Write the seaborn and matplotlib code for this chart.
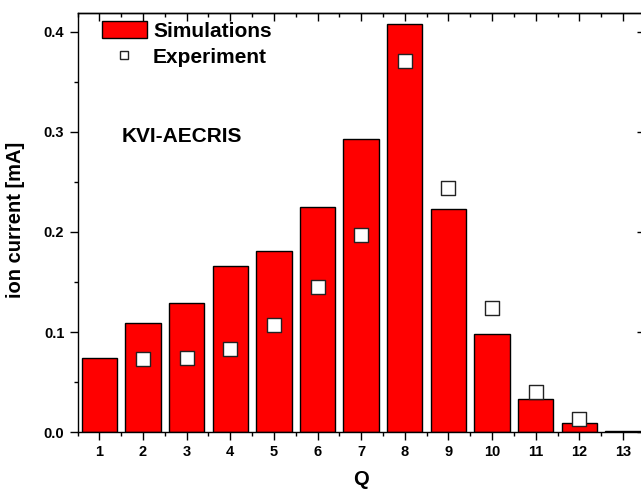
import matplotlib
matplotlib.use("Agg")
import matplotlib.pyplot as plt
from matplotlib.lines import Line2D
from matplotlib.patches import Patch
from matplotlib.ticker import MultipleLocator, FormatStrFormatter
import numpy as np
import pandas as pd
import seaborn as sns

# Charge states and ion currents [mA]
charge_states = [1, 2, 3, 4, 5, 6, 7, 8, 9, 10, 11, 12, 13]
simulations = [0.074, 0.109, 0.129, 0.166, 0.181, 0.225, 0.293, 0.408,
               0.223, 0.098, 0.033, 0.009, 0.001]
exp_charge_states = [2, 3, 4, 5, 6, 7, 8, 9, 10, 11, 12]
experiment = [0.073, 0.074, 0.083, 0.107, 0.145, 0.197, 0.371, 0.244,
              0.124, 0.040, 0.013]

sns.set_theme(style="ticks", rc={
    "text.color": "black", "axes.labelcolor": "black",
    "xtick.color": "black", "ytick.color": "black",
    "axes.edgecolor": "black",
})
plt.rcParams["font.family"] = ["Liberation Sans", "DejaVu Sans"]
plt.rcParams["font.weight"] = "bold"

sim_df = pd.DataFrame({"Q": charge_states, "current": simulations})
exp_df = pd.DataFrame({"Q": exp_charge_states, "current": experiment})

fig = plt.figure(figsize=(6.41, 4.92), dpi=100)
W, H = 641, 492
ax_left, ax_bottom = 77.5, 60
ax_w, ax_h = 567.3, 419
ax = fig.add_axes([ax_left / W, ax_bottom / H, ax_w / W, ax_h / H])

sns.barplot(data=sim_df, x="Q", y="current", native_scale=True, width=0.81,
            color="#ff0000", saturation=1, edgecolor="black", linewidth=1.0,
            ax=ax, zorder=2)
sns.scatterplot(data=exp_df, x="Q", y="current", marker="s", s=115,
                color="white", edgecolor="#222222", linewidth=1.0,
                ax=ax, zorder=3, legend=False)

ax.set_xlim(0.5, 13.5)
ax.set_ylim(0, 0.419)

ax.xaxis.set_major_locator(MultipleLocator(1))
ax.xaxis.set_minor_locator(MultipleLocator(0.5))
ax.yaxis.set_major_locator(MultipleLocator(0.1))
ax.yaxis.set_minor_locator(MultipleLocator(0.05))
ax.yaxis.set_major_formatter(FormatStrFormatter("%.1f"))
ax.xaxis.set_major_formatter(FormatStrFormatter("%d"))

ax.tick_params(axis="both", which="major", direction="out", length=6,
               width=1.0, color="black", labelcolor="black", labelsize=10.5,
               pad=3.5)
ax.tick_params(axis="both", which="minor", direction="out", length=3,
               width=1.0, color="black")
for lab in ax.get_xticklabels() + ax.get_yticklabels():
    lab.set_fontweight("bold")

for sp in ax.spines.values():
    sp.set_linewidth(1.0)
    sp.set_color("black")

# Mirrored ticks on the top and right sides, pointing inward
top = ax.secondary_xaxis("top")
top.xaxis.set_major_locator(MultipleLocator(1))
top.xaxis.set_minor_locator(MultipleLocator(0.5))
top.tick_params(which="major", direction="in", length=6, width=1.0,
                color="black", labeltop=False)
top.tick_params(which="minor", direction="in", length=3, width=1.0,
                color="black")
top.spines["top"].set_linewidth(1.0)
top.spines["top"].set_color("black")

right = ax.secondary_yaxis("right")
right.yaxis.set_major_locator(MultipleLocator(0.1))
right.yaxis.set_minor_locator(MultipleLocator(0.05))
right.tick_params(which="major", direction="in", length=6, width=1.0,
                  color="black", labelright=False)
right.tick_params(which="minor", direction="in", length=3, width=1.0,
                  color="black")
right.spines["right"].set_linewidth(1.0)
right.spines["right"].set_color("black")

ax.set_xlabel("Q", fontsize=14.5, fontweight="bold", color="black")
ax.set_ylabel("ion current [mA]", fontsize=14.5, fontweight="bold",
              color="black")
ax.xaxis.set_label_coords(0.5, -0.091)
ax.yaxis.set_label_coords(-0.092, 0.506)

ax.text(1.5, 0.295, "KVI-AECRIS", fontsize=15, fontweight="bold",
        color="black", ha="left", va="center")

handles = [
    Patch(facecolor="#ff0000", edgecolor="black", linewidth=1.0),
    Line2D([], [], marker="s", linestyle="none", markersize=6,
           markerfacecolor="white", markeredgecolor="#222222",
           markeredgewidth=1.0),
]
ax.legend(handles, ["Simulations", "Experiment"], loc="upper left",
          bbox_to_anchor=(24.5 / ax_w, 1 - 8.5 / ax_h), frameon=False,
          borderpad=0, borderaxespad=0, handlelength=2.15, handleheight=0.85,
          handletextpad=0.3, labelspacing=0.32,
          prop={"size": 15, "weight": "bold"})

fig.savefig("out.png", dpi=100)
